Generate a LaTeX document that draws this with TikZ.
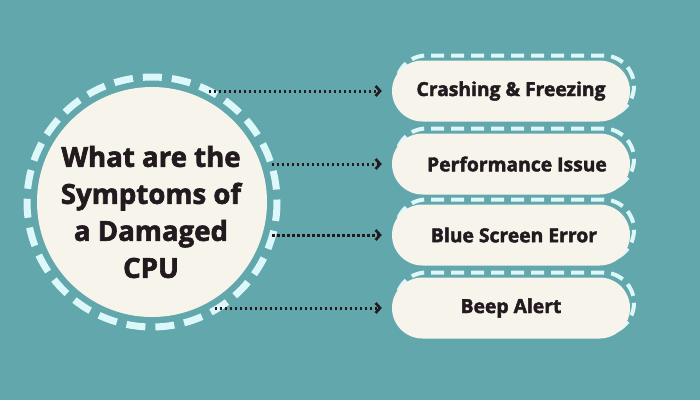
\documentclass[tikz,border=0pt]{standalone}
\usepackage{fontspec}
\setmainfont{Open Sans}[BoldFeatures={FakeBold=2.2}]
\usetikzlibrary{arrows.meta}
\definecolor{teal}{HTML}{62A7AC}
\definecolor{cream}{HTML}{F7F5EB}
\definecolor{icecyan}{HTML}{DCF8FA}
\definecolor{ink}{HTML}{231A20}
\tikzset{
	pill/.style={fill=cream, rounded corners=30.5pt, minimum width=238pt, minimum height=61pt, inner sep=0pt, font=\fontsize{19.3}{20}\selectfont\bfseries, text=ink},
	pilledge/.style={draw=icecyan, line width=4pt, dash pattern=on 13pt off 7pt, rounded corners=30.5pt},
	dotarrow/.style={ink, line width=3pt, dash pattern=on 2.6pt off 2.4pt, -{Straight Barb[length=4.5pt,width=10pt,line width=2.6pt]}}
}
\begin{document}
	\begin{tikzpicture}[x=1pt,y=-1pt]
		% Hintergrund
		\fill[teal] (0,0) rectangle (700,400);
		\useasboundingbox (0,0) rectangle (700,400);

		% Kreis mit Frage
		\node[circle, minimum size=250pt, inner sep=0pt, outer sep=0pt] (q) at (152,202) {};
		\fill[cream] (q.center) circle (115);
		\draw[icecyan, line width=7pt, dash pattern=on 19pt off 10pt] (q.center) circle (125);
		\node[align=center, text=ink, font=\fontsize{27.6}{37}\selectfont\bfseries] (qt) at (151,212) {What are the\\Symptoms of\\a Damaged\\CPU};

		% Gestrichelte Raender hinter den Feldern
		\foreach \y in {91,164,235,308}
			\draw[pilledge] (396,\y-35.5) rectangle (634,\y+25.5);

		% Symptome
		\node[pill] (s1) at (511,91) {Crashing \& Freezing};
		\node[pill] (s2) at (511,164) {\hspace*{12pt}Performance Issue};
		\node[pill] (s3) at (511,235) {\hspace*{6pt}Blue Screen Error};
		\node[pill] (s4) at (511,308) {Beep Alert};

		% Pfeile
		\draw[dotarrow] (s1.west -| q.63) -- ([xshift=-10pt]s1.west);
		\draw[dotarrow] (s2.west -| q.17) -- ([xshift=-10pt]s2.west);
		\draw[dotarrow] (s3.west -| q.-16) -- ([xshift=-10pt]s3.west);
		\draw[dotarrow] (s4.west -| q.-60) -- ([xshift=-10pt]s4.west);
	\end{tikzpicture}
\end{document}
